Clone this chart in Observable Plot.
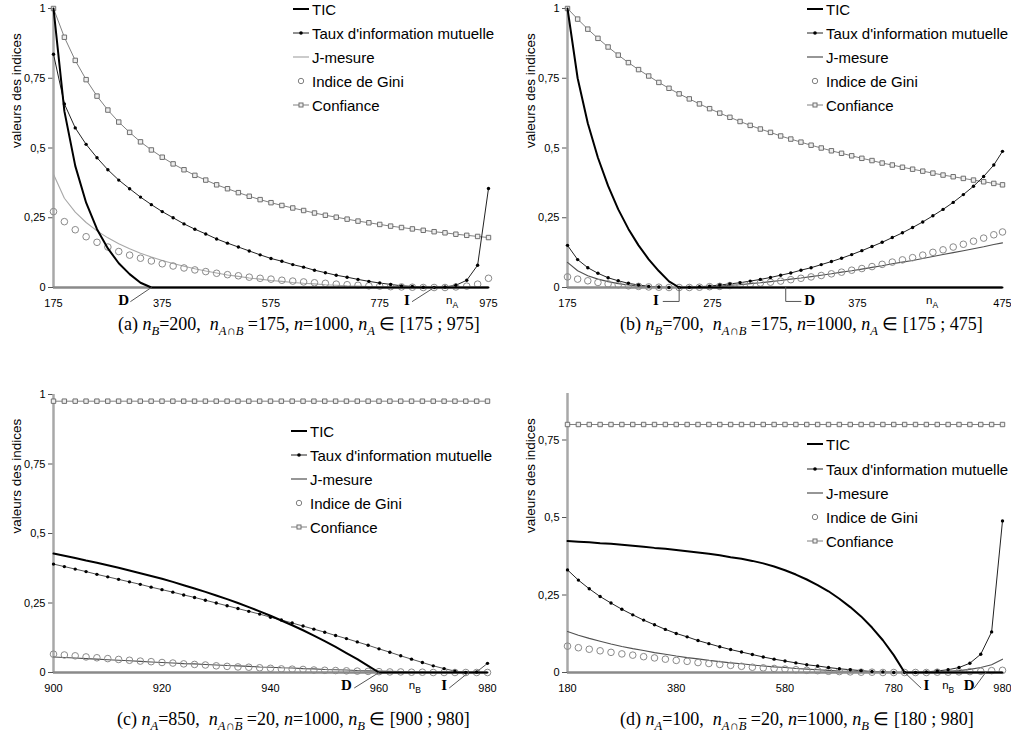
<!DOCTYPE html>
<html><head><meta charset="utf-8">
<script src="https://cdn.jsdelivr.net/npm/d3@7"></script>
<script src="https://cdn.jsdelivr.net/npm/@observablehq/plot@0.6"></script>
<style>
html,body{margin:0;padding:0;background:#fff;}
body{width:1011px;height:742px;overflow:hidden;position:relative;font-family:"Liberation Sans",Arial,sans-serif;color:#000;}
.panel{position:absolute;}
.caption{position:absolute;font-family:"Liberation Serif","Times New Roman",serif;font-size:18px;white-space:nowrap;}
.caption sub{font-size:0.7em;}
.lg{position:absolute;height:18px;display:flex;align-items:center;font-size:15px;white-space:nowrap;}
.lg svg{margin-right:3px;}
</style></head><body>
<script>
// ---------- Panel (a): nB=200, nA∩B=175, n=1000, nA in [175;975]
const xA = [175,195,215,235,255,275,295,315,335,355,375,395,415,435,455,475,495,515,535,555,575,595,615,635,655,675,695,715,735,755,775,795,815,835,855,875,895,915,935,955,975];
const ticA = [1,0.632,0.436,0.304,0.209,0.140,0.087,0.048,0.017,0,0,0,0,0,0,0,0,0,0,0,0,0,0,0,0,0,0,0,0,0,0,0,0,0,0,0,0,0,0,0,0];
const tauxA = [0.836,0.658,0.572,0.513,0.465,0.422,0.385,0.354,0.324,0.297,0.272,0.250,0.228,0.209,0.192,0.174,0.159,0.145,0.131,0.117,0.104,0.094,0.082,0.073,0.062,0.053,0.044,0.037,0.029,0.022,0.016,0.011,0.006,0.004,0.001,0,0.002,0.008,0.026,0.080,0.355];
const jA = [0.406,0.320,0.270,0.233,0.203,0.178,0.157,0.139,0.123,0.109,0.097,0.086,0.076,0.067,0.059,0.052,0.045,0.040,0.034,0.030,0.025,0.022,0.018,0.015,0.013,0.010,0.008,0.006,0.005,0.003,0.002,0.001,0.001,0,0,0,0,0,0.001,0.001,0.002];
const giniA = [0.272,0.236,0.207,0.182,0.162,0.145,0.129,0.116,0.105,0.095,0.085,0.077,0.070,0.063,0.057,0.051,0.046,0.042,0.037,0.033,0.030,0.026,0.023,0.020,0.017,0.015,0.012,0.010,0.008,0.006,0.005,0.003,0.002,0.001,0,0,0,0.002,0.005,0.012,0.033];
const confA = [1,0.897,0.814,0.745,0.686,0.636,0.593,0.556,0.522,0.493,0.467,0.443,0.422,0.402,0.385,0.368,0.354,0.340,0.327,0.315,0.304,0.294,0.285,0.276,0.267,0.259,0.252,0.245,0.238,0.232,0.226,0.220,0.215,0.210,0.205,0.200,0.196,0.191,0.187,0.183,0.179];
const xTicksA = [175,375,575,775,975];
const marksA = [{label:"D", x:304},{label:"I", x:825}];
const leadersA = [{id:"D",x:317,y:-0.05},{id:"D",x:355,y:0},{id:"I",x:835,y:-0.05},{id:"I",x:875,y:0}];
const varA = [{x:907, sub:"A"}];

// ---------- Panel (b): nB=700, nA∩B=175, n=1000, nA in [175;475]
const xB = [175,182,189,196,203,210,217,224,231,238,245,252,259,266,273,280,287,294,301,308,315,322,329,336,343,350,357,364,371,378,385,392,399,406,413,420,427,434,441,448,455,462,469,475];
const ticB = [1,0.750,0.589,0.465,0.364,0.280,0.210,0.151,0.101,0.059,0.022,0,0,0,0,0,0,0,0,0,0,0,0,0,0,0,0,0,0,0,0,0,0,0,0,0,0,0,0,0,0,0,0,0];
const tauxB = [0.151,0.100,0.071,0.051,0.035,0.024,0.015,0.009,0.004,0.002,0,0,0.001,0.003,0.005,0.009,0.013,0.017,0.023,0.029,0.036,0.044,0.052,0.062,0.071,0.082,0.093,0.105,0.118,0.132,0.147,0.162,0.179,0.196,0.215,0.235,0.257,0.280,0.305,0.333,0.363,0.398,0.439,0.488];
const jB = [0.090,0.060,0.042,0.030,0.021,0.014,0.009,0.005,0.003,0.001,0,0,0.001,0.002,0.003,0.005,0.008,0.010,0.014,0.017,0.021,0.025,0.030,0.034,0.039,0.044,0.049,0.055,0.060,0.066,0.072,0.078,0.085,0.091,0.097,0.104,0.111,0.118,0.125,0.132,0.139,0.146,0.154,0.160];
const giniB = [0.038,0.030,0.024,0.018,0.013,0.010,0.006,0.004,0.002,0.001,0,0,0,0.001,0.003,0.004,0.007,0.009,0.012,0.016,0.019,0.023,0.028,0.033,0.038,0.043,0.049,0.055,0.062,0.068,0.075,0.083,0.091,0.099,0.107,0.116,0.126,0.135,0.145,0.155,0.166,0.177,0.189,0.199];
const confB = [1,0.962,0.926,0.893,0.862,0.833,0.806,0.781,0.758,0.735,0.714,0.694,0.676,0.658,0.641,0.625,0.610,0.595,0.581,0.568,0.556,0.543,0.532,0.521,0.510,0.500,0.490,0.481,0.472,0.463,0.455,0.446,0.439,0.431,0.424,0.417,0.410,0.403,0.397,0.391,0.385,0.379,0.373,0.368];
const xTicksB = [175,275,375,475];
const marksB = [{label:"I", x:236},{label:"D", x:342}];
const leadersB = [{id:"I",x:241,y:-0.05},{id:"I",x:252,y:-0.05},{id:"I",x:252,y:0},{id:"D",x:325.5,y:0},{id:"D",x:325.5,y:-0.05},{id:"D",x:336,y:-0.05}];
const varB = [{x:426, sub:"A"}];

// ---------- Panel (c): nA=850, nA∩B̄=20, n=1000, nB in [900;980]
const xC = [900,902,904,906,908,910,912,914,916,918,920,922,924,926,928,930,932,934,936,938,940,942,944,946,948,950,952,954,956,958,960,962,964,966,968,970,972,974,976,978,980];
const ticC = [0.428,0.420,0.412,0.403,0.395,0.386,0.377,0.367,0.357,0.347,0.337,0.326,0.314,0.302,0.290,0.277,0.264,0.250,0.235,0.220,0.204,0.187,0.170,0.152,0.133,0.113,0.092,0.070,0.048,0.024,0,0,0,0,0,0,0,0,0,0,0];
const tauxC = [0.390,0.381,0.372,0.363,0.353,0.344,0.335,0.326,0.317,0.307,0.298,0.289,0.279,0.270,0.260,0.250,0.240,0.230,0.220,0.210,0.199,0.189,0.178,0.167,0.156,0.145,0.133,0.122,0.110,0.098,0.085,0.073,0.060,0.048,0.036,0.024,0.014,0.005,0,0.002,0.033];
const jC = [0.056,0.054,0.052,0.050,0.048,0.046,0.044,0.042,0.040,0.038,0.036,0.034,0.032,0.031,0.029,0.027,0.025,0.024,0.022,0.020,0.019,0.017,0.016,0.014,0.013,0.011,0.010,0.009,0.007,0.006,0.005,0.004,0.003,0.002,0.002,0.001,0.001,0,0,0,0];
const giniC = [0.066,0.063,0.060,0.056,0.053,0.050,0.047,0.044,0.041,0.039,0.036,0.034,0.031,0.029,0.027,0.024,0.022,0.020,0.019,0.017,0.015,0.013,0.012,0.011,0.009,0.008,0.007,0.006,0.005,0.004,0.003,0.002,0.002,0.001,0.001,0,0,0,0,0,0];
const confC = [0.976,0.976,0.976,0.976,0.976,0.976,0.976,0.976,0.976,0.976,0.976,0.976,0.976,0.976,0.976,0.976,0.976,0.976,0.976,0.976,0.976,0.976,0.976,0.976,0.976,0.976,0.976,0.976,0.976,0.976,0.976,0.976,0.976,0.976,0.976,0.976,0.976,0.976,0.976,0.976,0.976];
const xTicksC = [900,920,940,960,980];
const marksC = [{label:"D", x:954},{label:"I", x:972}];
const leadersC = [{id:"D",x:955.5,y:-0.055},{id:"D",x:960,y:0},{id:"I",x:973,y:-0.055},{id:"I",x:976.5,y:0}];
const varC = [{x:966.5, sub:"B"}];

// ---------- Panel (d): nA=100, nA∩B̄=20, n=1000, nB in [180;980]
const xD = [180,200,220,240,260,280,300,320,340,360,380,400,420,440,460,480,500,520,540,560,580,600,620,640,660,680,700,720,740,760,780,800,820,840,860,880,900,920,940,960,980];
const ticD = [0.424,0.422,0.420,0.417,0.415,0.412,0.409,0.406,0.402,0.399,0.395,0.391,0.387,0.383,0.378,0.372,0.367,0.360,0.352,0.342,0.330,0.316,0.300,0.282,0.262,0.238,0.211,0.181,0.145,0.104,0.056,0,0,0,0,0,0,0,0,0,0];
const tauxD = [0.331,0.298,0.270,0.245,0.224,0.204,0.186,0.169,0.154,0.139,0.126,0.115,0.103,0.093,0.083,0.074,0.066,0.058,0.050,0.043,0.037,0.031,0.025,0.021,0.016,0.012,0.009,0.006,0.003,0.002,0,0,0,0.002,0.005,0.009,0.016,0.030,0.059,0.131,0.489];
const jD = [0.132,0.120,0.110,0.101,0.092,0.084,0.077,0.071,0.064,0.059,0.053,0.048,0.044,0.039,0.035,0.031,0.028,0.024,0.021,0.018,0.016,0.013,0.011,0.009,0.007,0.005,0.004,0.003,0.001,0.001,0,0,0,0.001,0.002,0.004,0.006,0.010,0.016,0.025,0.043];
const giniD = [0.085,0.080,0.075,0.070,0.065,0.060,0.056,0.051,0.047,0.043,0.039,0.036,0.032,0.029,0.026,0.023,0.020,0.017,0.015,0.013,0.011,0.009,0.007,0.006,0.004,0.003,0.002,0.001,0.001,0,0,0,0,0,0.001,0.001,0.002,0.003,0.004,0.006,0.007];
const confD = [0.8,0.8,0.8,0.8,0.8,0.8,0.8,0.8,0.8,0.8,0.8,0.8,0.8,0.8,0.8,0.8,0.8,0.8,0.8,0.8,0.8,0.8,0.8,0.8,0.8,0.8,0.8,0.8,0.8,0.8,0.8,0.8,0.8,0.8,0.8,0.8,0.8,0.8,0.8,0.8,0.8];
const xTicksD = [180,380,580,780,980];
const marksD = [{label:"I", x:840},{label:"D", x:918.5}];
const leadersD = [{id:"I",x:800,y:0},{id:"I",x:830,y:-0.05},{id:"D",x:928,y:-0.05},{id:"D",x:949,y:0}];
const varD = [{x:879, sub:"B"}];

const yTicks = [0,0.25,0.5,0.75,1];
const yTicksD = [0,0.25,0.5,0.75];
const legendNames = ["TIC","Taux d'information mutuelle","J-mesure","Indice de Gini","Confiance"];

const yFmt = d => d === 0 ? "0" : String(d).replace(".", ",");
const serif = "'Liberation Serif','Times New Roman',serif";

function makePanel(c) {
  const rows = c.x.map((x, i) => ({x, tic: c.tic[i], taux: c.taux[i], j: c.j[i], gini: c.gini[i], conf: c.conf[i]}));
  const [x0, x1] = c.xDomain;
  return Plot.plot({
    width: c.width, height: c.height,
    marginLeft: 53, marginRight: c.marginRight, marginTop: c.marginTop, marginBottom: c.marginBottom,
    x: {domain: c.xDomain}, y: {domain: c.yDomain},
    style: {fontFamily: "'Liberation Sans', Arial, sans-serif", fontSize: "11px", background: "transparent", overflow: "visible", color: "#000"},
    marks: [
      Plot.axisY({ticks: c.yTicks, tickFormat: yFmt, tickSize: 5, tickPadding: 3, label: null, stroke: "#555"}),
      Plot.axisX({ticks: c.xTicks, tickFormat: d => String(d), tickSize: 0, tickPadding: 12, label: null}),
      Plot.text(["valeurs des indices"], {frameAnchor: "left", rotate: -90, dx: -37, fontSize: 13.5}),
      Plot.ruleX([x0], {y1: 0, y2: c.yDomain[1], stroke: "#a8a8a8", strokeWidth: 2.5}),
      Plot.line(rows, {x: "x", y: "conf", stroke: "#808080", strokeWidth: 1}),
      Plot.line(rows, {x: "x", y: "j", stroke: c.jColor, strokeWidth: 1.1}),
      Plot.line(rows, {x: "x", y: "taux", stroke: c.tauxColor, strokeWidth: 1}),
      Plot.ruleY([0], {x1: x0, x2: x1, stroke: "#8a8a8a", strokeWidth: 2.5}),
      Plot.dot(rows, {x: "x", y: "gini", r: 3.3, stroke: "#8a8a8a", strokeWidth: 1, fill: "none"}),
      Plot.dot(rows, {x: "x", y: "conf", symbol: "square", r: 2.5, stroke: "#6f6f6f", strokeWidth: 1, fill: "#eee"}),
      Plot.line(rows, {x: "x", y: "tic", stroke: "#000", strokeWidth: 2}),
      Plot.dot(rows, {x: "x", y: "taux", r: 1.7, fill: "#000"}),
      Plot.line(c.leaders, {x: "x", y: "y", z: "id", stroke: "#555", strokeWidth: 1}),
      Plot.text(c.marks, {x: "x", text: "label", frameAnchor: "bottom", dy: 17, fontFamily: serif, fontWeight: "bold", fontSize: 15}),
      Plot.text(c.vars, {x: "x", text: () => "n", frameAnchor: "bottom", dy: 16, dx: 1, textAnchor: "end", fontSize: 11.5}),
      Plot.text(c.vars, {x: "x", text: "sub", frameAnchor: "bottom", dy: 20, dx: 1, textAnchor: "start", fontSize: 8.5})
    ]
  });
}

function place(el, left, top) {
  const d = document.createElement("div");
  d.className = "panel";
  d.style.left = left + "px"; d.style.top = top + "px";
  d.appendChild(el);
  document.body.appendChild(d);
}

function legend(left, rowCenters, jColor) {
  const sym = [
    '<line x1="0" x2="16" y1="9" y2="9" stroke="#000" stroke-width="2"/>',
    '<line x1="0" x2="16" y1="9" y2="9" stroke="#222" stroke-width="1"/><circle cx="8" cy="9" r="1.8" fill="#000"/>',
    '<line x1="0" x2="16" y1="9" y2="9" stroke="' + jColor + '" stroke-width="1.2"/>',
    '<circle cx="8" cy="9" r="2.7" fill="none" stroke="#808080" stroke-width="1"/>',
    '<line x1="0" x2="16" y1="9" y2="9" stroke="#808080" stroke-width="1"/><rect x="6" y="7" width="4" height="4" fill="#eee" stroke="#6f6f6f" stroke-width="1"/>'
  ];
  legendNames.forEach((name, i) => {
    const d = document.createElement("div");
    d.className = "lg";
    d.style.left = left + "px";
    d.style.top = (rowCenters[i] - 9) + "px";
    d.innerHTML = '<svg width="16" height="18">' + sym[i] + '</svg><span>' + name + '</span>';
    document.body.appendChild(d);
  });
}

function caption(html, left, top) {
  const d = document.createElement("div");
  d.className = "caption";
  d.style.left = left + "px"; d.style.top = top + "px";
  d.innerHTML = html;
  document.body.appendChild(d);
}

place(makePanel({x: xA, tic: ticA, taux: tauxA, j: jA, gini: giniA, conf: confA, xDomain: [175, 975], yDomain: [0, 1], xTicks: xTicksA, yTicks,
  width: 505, height: 315, marginRight: 17, marginTop: 8, marginBottom: 28, jColor: "#a8a8a8", tauxColor: "#222", marks: marksA, leaders: leadersA, vars: varA}), 0, 0);
place(makePanel({x: xB, tic: ticB, taux: tauxB, j: jB, gini: giniB, conf: confB, xDomain: [175, 475], yDomain: [0, 1], xTicks: xTicksB, yTicks,
  width: 497, height: 315, marginRight: 9, marginTop: 8, marginBottom: 28, jColor: "#505050", tauxColor: "#222", marks: marksB, leaders: leadersB, vars: varB}), 514, 0);
place(makePanel({x: xC, tic: ticC, taux: tauxC, j: jC, gini: giniC, conf: confC, xDomain: [900, 980], yDomain: [0, 1], xTicks: xTicksC, yTicks,
  width: 505, height: 314, marginRight: 18, marginTop: 8, marginBottom: 28, jColor: "#505050", tauxColor: "#555", marks: marksC, leaders: leadersC, vars: varC}), 0, 386);
place(makePanel({x: xD, tic: ticD, taux: tauxD, j: jD, gini: giniD, conf: confD, xDomain: [180, 980], yDomain: [0, 0.9], xTicks: xTicksD, yTicks: yTicksD,
  width: 497, height: 314, marginRight: 9, marginTop: 7, marginBottom: 28, jColor: "#505050", tauxColor: "#222", marks: marksD, leaders: leadersD, vars: varD}), 514, 386);

legend(293, [9, 33, 57, 81, 105], "#a8a8a8");
legend(807, [9, 33, 57, 81, 105], "#505050");
legend(291, [431, 455, 479, 503, 527], "#505050");
legend(807, [444, 469, 493, 517, 541], "#505050");

const ov = '<span style="text-decoration:overline">B</span>';
caption('(a) <i>n<sub>B</sub></i>=200,&nbsp; <i>n<sub>A∩B</sub></i> =175, <i>n</i>=1000, <i>n<sub>A</sub></i> ∈ [175 ; 975]', 118, 313);
caption('(b) <i>n<sub>B</sub></i>=700,&nbsp; <i>n<sub>A∩B</sub></i> =175, <i>n</i>=1000, <i>n<sub>A</sub></i> ∈ [175 ; 475]', 620, 313);
caption('(c) <i>n<sub>A</sub></i>=850,&nbsp; <i>n<sub>A∩' + ov + '</sub></i> =20, <i>n</i>=1000, <i>n<sub>B</sub></i> ∈ [900 ; 980]', 117, 708);
caption('(d) <i>n<sub>A</sub></i>=100,&nbsp; <i>n<sub>A∩' + ov + '</sub></i> =20, <i>n</i>=1000, <i>n<sub>B</sub></i> ∈ [180 ; 980]', 620, 708);
</script>
</body></html>
